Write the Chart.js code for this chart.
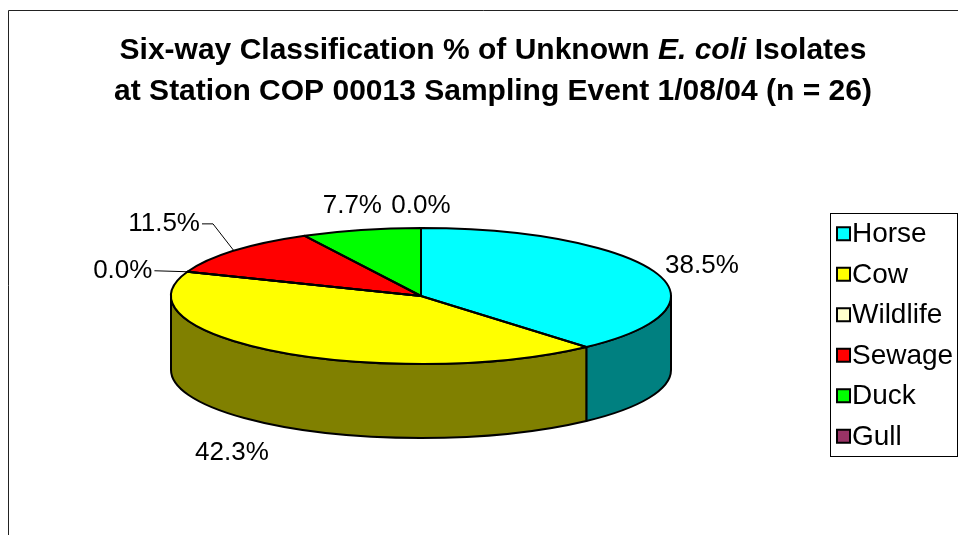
<!DOCTYPE html>
<html>
<head>
<meta charset="utf-8">
<script src="https://cdn.jsdelivr.net/npm/chart.js@4.4.0/dist/chart.umd.min.js"></script>
<style>
  html, body { margin: 0; padding: 0; background: #fff; overflow: hidden; }
  #wrap { position: relative; width: 958px; height: 535px; overflow: hidden; }
</style>
</head>
<body>
<div id="wrap"><canvas id="chart" width="958" height="560"></canvas></div>
<script>
// ---- data ----
const categories = ['Horse', 'Cow', 'Wildlife', 'Sewage', 'Duck', 'Gull'];
const percentValues = [38.5, 42.3, 0.0, 11.5, 7.7, 0.0];
const valueLabels = percentValues.map(v => v.toFixed(1) + '%');
const titleLine1 = [['Six-way Classification % of Unknown ', false], ['E. coli', true], [' Isolates', false]];
const titleLine2 = [['at Station COP 00013 Sampling Event 1/08/04 (n = 26)', false]];

// ---- styling ----
const topColors  = ['#00FFFF', '#FFFF00', '#FFFFCC', '#FF0000', '#00FF00', '#993366'];
const sideColors = ['#008080', '#808000', '#808066', '#800000', '#008000', '#4D1A33'];
const FONT = '"Liberation Sans", Arial, Helvetica, sans-serif';

// Label placement: distance beyond the rim, plus per-slice nudges / leader lines
const labelStyle = {
  gapX: 45, gapY: 30,
  nudge: [[5, 4], [-21, 2], null, null, [2, 5], [0, 8]],
  leader: [null, null, { dx: -35, dy: -1, elbow: null }, { dx: -34, dy: -27, elbow: [-21, -27] }, null, null]
};

function normAngle(a) {
  const t = Math.PI * 2;
  return ((a % t) + t) % t;
}

// Draws the pie as a tilted disc: front walls, then the flattened top face, then outlines
const pie3d = {
  id: 'pie3d',
  beforeDatasetsDraw(chart, args, opts) {
    const ctx = chart.ctx;
    const arcs = chart.getDatasetMeta(0).data;
    const cx = arcs[0].x, cy = arcs[0].y, rx = arcs[0].outerRadius;
    const ry = rx * opts.tilt, d = opts.depth;

    // front-facing walls (angles between 0 and PI on screen)
    arcs.forEach((arc, i) => {
      const s = arc.startAngle, e = arc.endAngle;
      if (e - s <= 1e-6) return;
      const ranges = [];
      for (let k = -1; k <= 1; k++) {
        const lo = Math.max(s, k * 2 * Math.PI), hi = Math.min(e, k * 2 * Math.PI + Math.PI);
        if (hi > lo) ranges.push([lo, hi]);
      }
      ranges.forEach(([a, b]) => {
        ctx.save();
        ctx.beginPath();
        ctx.ellipse(cx, cy, rx, ry, 0, a, b, false);
        ctx.lineTo(cx + rx * Math.cos(b), cy + d + ry * Math.sin(b));
        ctx.ellipse(cx, cy + d, rx, ry, 0, b, a, true);
        ctx.closePath();
        ctx.fillStyle = sideColors[i];
        ctx.fill();
        ctx.lineWidth = opts.lineWidth;
        ctx.strokeStyle = '#000';
        ctx.lineJoin = 'round';
        ctx.stroke();
        ctx.restore();
      });
    });

    // squash the library-drawn circle into the top face ellipse
    ctx.save();
    ctx.translate(cx, cy);
    ctx.scale(1, opts.tilt);
    ctx.translate(-cx, -cy);
  },
  afterDatasetsDraw(chart, args, opts) {
    const ctx = chart.ctx;
    ctx.restore();
    const arcs = chart.getDatasetMeta(0).data;
    const cx = arcs[0].x, cy = arcs[0].y, rx = arcs[0].outerRadius;
    const ry = rx * opts.tilt, d = opts.depth;

    ctx.save();
    ctx.lineWidth = opts.lineWidth;
    ctx.strokeStyle = '#000';
    ctx.lineJoin = 'round';
    arcs.forEach(arc => {
      const s = arc.startAngle, e = arc.endAngle;
      ctx.beginPath();
      ctx.moveTo(cx, cy);
      ctx.lineTo(cx + rx * Math.cos(s), cy + ry * Math.sin(s));
      if (e - s > 1e-6) ctx.ellipse(cx, cy, rx, ry, 0, s, e, false);
      ctx.closePath();
      ctx.stroke();
    });
    ctx.restore();

    // value labels
    ctx.save();
    ctx.font = '26px ' + FONT;
    ctx.fillStyle = '#000';
    ctx.strokeStyle = '#000';
    ctx.lineWidth = 1;
    ctx.textBaseline = 'middle';
    arcs.forEach((arc, i) => {
      const m = (arc.startAngle + arc.endAngle) / 2;
      const cos = Math.cos(m), sin = Math.sin(m);
      const front = normAngle(m) < Math.PI;
      const ax = cx + rx * cos, ay = cy + ry * sin;
      const lead = labelStyle.leader[i];
      if (lead) {
        const tx = ax + lead.dx, ty = ay + lead.dy;
        ctx.beginPath();
        ctx.moveTo(ax, ay);
        if (lead.elbow) ctx.lineTo(ax + lead.elbow[0], ay + lead.elbow[1]);
        ctx.lineTo(tx + 2, ty);
        ctx.stroke();
        ctx.textAlign = 'right';
        ctx.fillText(valueLabels[i], tx, ty);
      } else {
        const n = labelStyle.nudge[i] || [0, 0];
        const lx = cx + (rx + labelStyle.gapX) * cos + n[0];
        const ly = cy + (ry + labelStyle.gapY) * sin + (front ? d : 0) + n[1];
        ctx.textAlign = 'center';
        ctx.fillText(valueLabels[i], lx, ly);
      }
    });
    ctx.restore();
  }
};

// Outer frame, title and boxed legend
const decorations = {
  id: 'decorations',
  beforeDraw(chart) {
    const ctx = chart.ctx;
    ctx.save();
    ctx.fillStyle = '#fff';
    ctx.fillRect(0, 0, chart.width, chart.height);
    ctx.strokeStyle = '#222';
    ctx.lineWidth = 1;
    ctx.beginPath();
    ctx.moveTo(8.5, chart.height);
    ctx.lineTo(8.5, 10.5);
    ctx.lineTo(chart.width, 10.5);
    ctx.stroke();
    ctx.restore();
  },
  afterDraw(chart) {
    const ctx = chart.ctx;
    ctx.save();
    // title, with the species name in italics
    ctx.fillStyle = '#000';
    ctx.textBaseline = 'alphabetic';
    ctx.textAlign = 'left';
    const drawLine = (segs, centerX, baseY) => {
      const fonts = segs.map(([t, it]) => (it ? 'italic ' : '') + 'bold 30px ' + FONT);
      let total = 0;
      const widths = segs.map(([t], k) => { ctx.font = fonts[k]; const w = ctx.measureText(t).width; total += w; return w; });
      let x = centerX - total / 2;
      segs.forEach(([t], k) => { ctx.font = fonts[k]; ctx.fillText(t, x, baseY); x += widths[k]; });
    };
    drawLine(titleLine1, 493, 59);
    drawLine(titleLine2, 493, 100);

    // legend
    const box = { left: 830.5, top: 213.5, right: 957.5, bottom: 456.5 };
    ctx.fillStyle = '#fff';
    ctx.fillRect(box.left, box.top, box.right - box.left, box.bottom - box.top);
    ctx.strokeStyle = '#000';
    ctx.lineWidth = 1;
    ctx.strokeRect(box.left, box.top, box.right - box.left, box.bottom - box.top);
    const rowH = (box.bottom - box.top) / categories.length;
    ctx.font = '28px ' + FONT;
    ctx.textBaseline = 'middle';
    categories.forEach((name, i) => {
      const yc = box.top + rowH * (i + 0.5);
      ctx.fillStyle = topColors[i];
      ctx.fillRect(837, yc - 6.5, 13, 13);
      ctx.lineWidth = 2;
      ctx.strokeStyle = '#000';
      ctx.strokeRect(837, yc - 6.5, 13, 13);
      ctx.fillStyle = '#000';
      ctx.fillText(name, 852, yc + 1);
    });
    ctx.restore();
  }
};

new Chart(document.getElementById('chart'), {
  type: 'pie',
  data: {
    labels: categories,
    datasets: [{
      data: percentValues,
      backgroundColor: topColors,
      borderWidth: 0,
      hoverOffset: 0,
      offset: 0
    }]
  },
  options: {
    responsive: false,
    animation: false,
    events: [],
    layout: { autoPadding: false, padding: { left: 171, right: 287, top: 46, bottom: 14 } },
    plugins: {
      legend: { display: false },
      title: { display: false },
      tooltip: { enabled: false },
      pie3d: { tilt: 0.272, depth: 74, lineWidth: 2 }
    }
  },
  plugins: [decorations, pie3d]
});
</script>
</body>
</html>
